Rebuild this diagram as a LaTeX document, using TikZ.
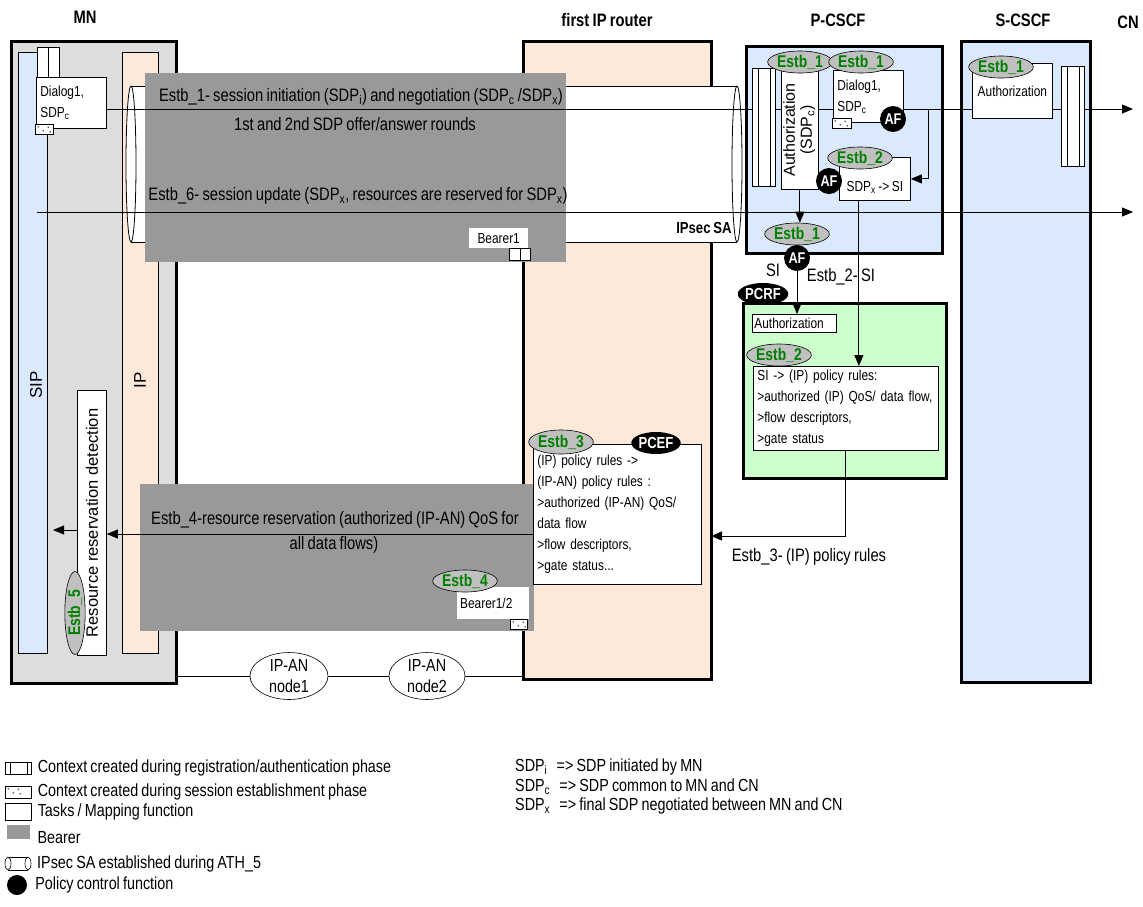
\documentclass[tikz,border=0pt]{standalone}
\usepackage{fontspec}
\setmainfont[FakeStretch=0.82, WordSpace=0.8]{Liberation Sans}
\newfontfamily\widefont{Liberation Sans}
\usepackage{xcolor}
\usepackage{graphicx}
\usepackage{tikz}
\usetikzlibrary{positioning, arrows.meta, shapes.geometric, calc}
\definecolor{mngray}{HTML}{DDDDDD}
\definecolor{lightblue}{HTML}{DAE9FD}
\definecolor{peach}{HTML}{FDE9D9}
\definecolor{bearergray}{HTML}{999999}
\definecolor{pcrfgreen}{HTML}{CCFFCC}
\definecolor{estbgray}{HTML}{C0C0C0}
\definecolor{estbgreen}{HTML}{008000}
\newcommand{\fsmsg}{\fontsize{18}{22}\selectfont}
\newcommand{\fsbox}{\fontsize{14.5}{21}\selectfont}
\newcommand{\fsleg}{\fontsize{17.5}{20}\selectfont}
\newcommand{\sdp}[1]{SDP\textsubscript{#1}}

\tikzset{
  entity/.style={draw, line width=2.5pt, anchor=north west, inner sep=0pt},
  column/.style={draw, line width=0.6pt, anchor=north west, inner sep=0pt},
  task/.style={draw, fill=white, line width=0.8pt, anchor=north west, inner sep=3pt, font=\fsbox, align=left},
  bearer/.style={fill=bearergray, anchor=north west, inner sep=0pt},
  estb/.style={ellipse, draw, fill=estbgray, line width=0.6pt, text=estbgreen, inner sep=0pt,
    minimum width=58pt, minimum height=22pt, font=\fontsize{17}{17}\selectfont\bfseries},
  af/.style={circle, fill=black, text=white, inner sep=0pt, minimum size=26pt,
    font=\fontsize{15.5}{15.5}\selectfont\bfseries},
  pcfname/.style={ellipse, fill=black, text=white, inner sep=0pt, minimum width=48pt,
    minimum height=22pt, font=\fontsize{16}{16}\selectfont\bfseries},
  title/.style={font=\fontsize{18}{18}\selectfont\bfseries},
  msgtext/.style={font=\fsmsg, inner sep=0pt},
  legtext/.style={font=\fsleg, inner sep=0pt},
  collabel/.style={font=\widefont\fontsize{17}{17}\selectfont, inner sep=0pt},
  msg/.style={-{Triangle[length=11pt, width=9pt]}, line width=0.9pt},
  regctx/.style={draw, fill=white, line width=0.6pt, anchor=north west, inner sep=0pt,
    path picture={\foreach \f in {#1}
      \draw ($(path picture bounding box.south west)!\f!(path picture bounding box.south east)$)
        -- ($(path picture bounding box.north west)!\f!(path picture bounding box.north east)$);}},
  regctx/.default={0.25,0.8},
  sesctx/.style={draw, fill=white, line width=0.6pt, anchor=north west, inner sep=0pt,
    path picture={\foreach \dx/\dy in {3/2.5, 8/6.5, 13/3, 15/7.5}
      \fill[gray!70!black] ([xshift=\dx pt, yshift=-\dy pt]path picture bounding box.north west) circle (0.9pt);}},
}

\begin{document}
\begin{tikzpicture}[x=1pt, y=-1pt, font=\fsbox]
  \useasboundingbox (0,0) rectangle (1143,906);

  % entities
  \node[entity, fill=mngray, minimum width=165pt, minimum height=642pt] (mn) at (10,40) {};
  \node[column, fill=lightblue, minimum width=29pt, minimum height=601pt] (sipcol) at (18,52) {};
  \node[column, fill=peach, minimum width=36pt, minimum height=601pt] (ipcol) at (122,52) {};
  \node[collabel] (siplbl) at (36,385) {\rotatebox{90}{SIP}};
  \node[collabel] (iplbl) at (140,380) {\rotatebox{90}{IP}};
  \node[entity, fill=peach, minimum width=188pt, minimum height=638pt] (router) at (522,40) {};
  \node[entity, fill=lightblue, minimum width=196pt, minimum height=207pt] (pcscf) at (745,45) {};
  \node[entity, fill=lightblue, minimum width=129pt, minimum height=641pt] (scscf) at (960,40) {};
  \node[entity, fill=pcrfgreen, minimum width=203pt, minimum height=175pt] (pcrf) at (742,302) {};

  \node[title] (mnttl) at (85,17) {MN};
  \node[title] (routerttl) at (607,20) {first IP router};
  \node[title] (pcscfttl) at (838,20) {P-CSCF};
  \node[title] (scscfttl) at (1023,20) {S-CSCF};
  \node[title] (cnttl) at (1128,22) {CN};

  % IPsec SA
  \fill[white] (131,86) rectangle (737,242);
  \draw[line width=0.8pt] (131,86) -- (737,86) (131,242) -- (737,242);
  \draw[line width=0.8pt, fill=white] (131,164) ellipse (5 and 78);
  \draw[line width=0.8pt] (737,164) ellipse (5 and 78);

  % bearers
  \node[bearer, minimum width=421pt, minimum height=189pt] (bearertop) at (145,73) {};
  \node[bearer, minimum width=394pt, minimum height=147pt] (bearerbot) at (140,484) {};
  \node[font=\fontsize{16}{16}\selectfont\bfseries] (ipsec) at (704,228) {IPsec SA};
  \node[fill=white, anchor=north west, minimum width=59pt, minimum height=20pt, inner sep=0pt] (bearer1) at (469,228) {Bearer1};
  \node[regctx=0.5, minimum width=21pt, minimum height=12pt] (bearer1ctx) at (509,248) {};

  % MN
  \node[regctx=0.5, minimum width=22pt, minimum height=30pt] (mnctx) at (37,47) {};
  \node[task, text width=62pt, inner xsep=4pt, minimum height=51pt] (dlgmn) at (36,77) {Dialog1,\\\sdp{c}};
  \node[sesctx, minimum width=18pt, minimum height=10pt] (mnses) at (35,124) {};

  % messages
  \coordinate (cnsip) at (1133,109);
  \coordinate (cnupd) at (1133,212);
  \coordinate (mnupd) at (37,212);
  \draw[msg] (dlgmn.east |- cnsip) -- (cnsip);
  \draw[msg] (mnupd) -- (cnupd);
  \node[msgtext] (e1txt) at (361,97) {Estb\_1- session initiation (\sdp{i}) and negotiation (\sdp{c} /\sdp{x})};
  \node[msgtext] (e1txt2) at (355,124) {1st and 2nd SDP offer/answer rounds};
  \node[msgtext] (e6txt) at (358,196) {Estb\_6- session update (\sdp{x}, resources are reserved for \sdp{x})};

  % P-CSCF
  \node[regctx, minimum width=23pt, minimum height=118pt] (pcscfctx) at (752,68) {};
  \node[task, minimum width=37pt, minimum height=119pt, inner sep=0pt,
        font=\widefont\fontsize{16}{17}\selectfont] (authp) at (781,70)
        {\rotatebox{90}{\begin{tabular}{@{}c@{}}Authorization\\(\sdp{c})\end{tabular}}};
  \node[estb] (estbp1) at (800,62) {Estb\_1};
  \node[task, text width=62pt, inner xsep=4pt, minimum height=52pt] (dlgp) at (833,70) {Dialog1,\\\sdp{c}};
  \node[estb] (estbp2) at (861,62) {Estb\_1};
  \node[sesctx, minimum width=19pt, minimum height=10pt] (pses) at (832,118) {};
  \node[af] (afp1) at (893,119) {AF};
  \node[task, minimum width=71pt, text height=31pt, text depth=6pt, inner ysep=3pt] (sdpsi) at (839,157) {\sdp{x} -> SI};
  \node[estb] (estbp4) at (860,158) {Estb\_2};
  \node[af] (afp2) at (829,181) {AF};
  \node[estb] (estbp3) at (797,234) {Estb\_1};
  \node[af] (afp3) at (797,258) {AF};
  \node[msgtext] (sitxt) at (773,270) {SI};

  \coordinate (loopup) at (928,109);
  \draw[msg] (loopup) |- (sdpsi.east);
  \draw[msg] (authp.south) -- (authp.south |- estbp3.north);

  % PCRF
  \node[pcfname] (pcrfname) at (763,294) {PCRF};
  \node[task, text width=80pt, inner sep=2pt, minimum height=18pt] (authr) at (752,314) {Authorization};
  \node[task, text width=177pt, inner xsep=4pt, minimum height=84pt] (sipol) at (753,366)
    {SI -> (IP) policy rules:\\>authorized (IP) QoS/ data flow,\\>flow descriptors,\\>gate status};
  \node[estb] (estbr) at (779,355) {Estb\_2};
  \draw[msg] (afp3.south) -- (afp3.south |- authr.north);
  \coordinate (sitap) at ([xshift=-16pt]sdpsi.south);
  \draw[msg] (sitap) -- (sitap |- sipol.north);
  \node[msgtext] (e2txt) at (841,277) {Estb\_2- SI};
  \coordinate (routerin) at (711,536);
  \draw[msg] (sipol.south) |- (routerin);
  \node[msgtext] (e3txt) at (809,557) {Estb\_3- (IP) policy rules};

  % S-CSCF
  \node[task, text width=74pt, minimum height=55pt, align=center] (auths) at (972,63) {Authorization};
  \node[estb] (estbs) at (1001,67) {Estb\_1};
  \node[regctx, minimum width=23pt, minimum height=100pt] (scscfctx) at (1061,66) {};

  % first IP router
  \node[task, text width=160pt, inner xsep=4pt, minimum height=140pt] (pcefbox) at (533,444)
    {(IP) policy rules ->\\(IP-AN) policy rules :\\>authorized (IP-AN) QoS/\\data flow\\>flow descriptors,\\>gate status...};
  \node[estb, minimum height=24pt] (estb3) at (561,442) {Estb\_3};
  \node[pcfname] (pcefname) at (656,443) {PCEF};
  \node[fill=white, anchor=north west, text width=66pt, inner xsep=3pt, minimum height=32pt, inner ysep=0pt] (bearer12) at (457,587) {Bearer1/2};
  \node[estb] (estb4) at (465,581) {Estb\_4};
  \node[sesctx, minimum width=17pt, minimum height=10pt] (bearer12ses) at (510,619) {};

  % resource reservation
  \node[task, minimum width=29pt, minimum height=265pt, inner sep=0pt,
        font=\widefont\fontsize{16.5}{17}\selectfont] (rrd) at (77,390)
        {\rotatebox{90}{Resource reservation detection}};
  \node[estb, minimum width=16pt, minimum height=83pt] (estb5) at (75,613) {\rotatebox{90}{Estb\_5}};
  \coordinate (pcefout) at (533,534);
  \draw[msg] (pcefout) -- (pcefout -| rrd.east);
  \coordinate (sipin) at (53,530);
  \draw[msg] (sipin -| rrd.west) -- (sipin);
  \node[msgtext] (e4txt) at (335,520) {Estb\_4-resource reservation (authorized (IP-AN) QoS for};
  \node[msgtext] (e4txt2) at (334,545) {all data flows)};

  % access network
  \node[ellipse, draw, fill=white, line width=0.6pt, minimum width=78pt, minimum height=44pt, inner sep=0pt,
        font=\fontsize{17.5}{21}\selectfont, align=center] (ipan1) at (289,676) {IP-AN\\node1};
  \node[ellipse, draw, fill=white, line width=0.6pt, minimum width=76pt, minimum height=44pt, inner sep=0pt,
        font=\fontsize{17.5}{21}\selectfont, align=center] (ipan2) at (427,676) {IP-AN\\node2};
  \draw[line width=0.8pt] (ipan1.west -| mn.east) -- (ipan1.west);
  \draw[line width=0.8pt] (ipan1.east) -- (ipan2.west);
  \draw[line width=0.8pt] (ipan2.east) -- (ipan2.east -| router.west);

  % legend
  \node[regctx={0.2,0.85}, minimum width=26pt, minimum height=12pt] (lgreg) at (5,762) {};
  \node[legtext, right=6pt of lgreg] (lgregtxt) {Context created during registration/authentication phase};
  \node[sesctx, minimum width=26pt, minimum height=12pt] (lgses) at (5,786) {};
  \node[legtext, right=6pt of lgses] (lgsestxt) {Context created during session establishment phase};
  \node[draw, line width=0.6pt, anchor=north west, minimum width=26pt, minimum height=17pt, inner sep=0pt] (lgtask) at (5,803) {};
  \node[legtext, right=6pt of lgtask] (lgtasktxt) {Tasks / Mapping function};
  \node[bearer, minimum width=23pt, minimum height=14pt] (lgbearer) at (7,825) {};
  \node[legtext, right=7pt of lgbearer, yshift=-5pt] (lgbearertxt) {Bearer};
  \draw[line width=0.6pt] (8,857) -- (28,857) (8,870) -- (28,870);
  \draw[line width=0.6pt, fill=white] (8,863.5) ellipse (3 and 6.5);
  \draw[line width=0.6pt] (28,863.5) ellipse (3 and 6.5);
  \coordinate (lgsa) at (31,863.5);
  \node[legtext, right=6pt of lgsa] (lgsatxt) {IPsec SA established during ATH\_5};
  \node[circle, fill=black, minimum size=20pt, inner sep=0pt] (lgpcf) at (17,885) {};
  \node[legtext, right=8pt of lgpcf] (lgpcftxt) {Policy control function};

  \node[legtext, anchor=west] (lgsdpi) at (515,767) {\sdp{i}\hspace{6pt} => SDP initiated by MN};
  \node[legtext, anchor=west] (lgsdpc) at (515,787) {\sdp{c}\hspace{6pt} => SDP common to MN and CN};
  \node[legtext, anchor=west] (lgsdpx) at (515,806) {\sdp{x}\hspace{6pt} => final SDP negotiated between MN and CN};
\end{tikzpicture}
\end{document}
